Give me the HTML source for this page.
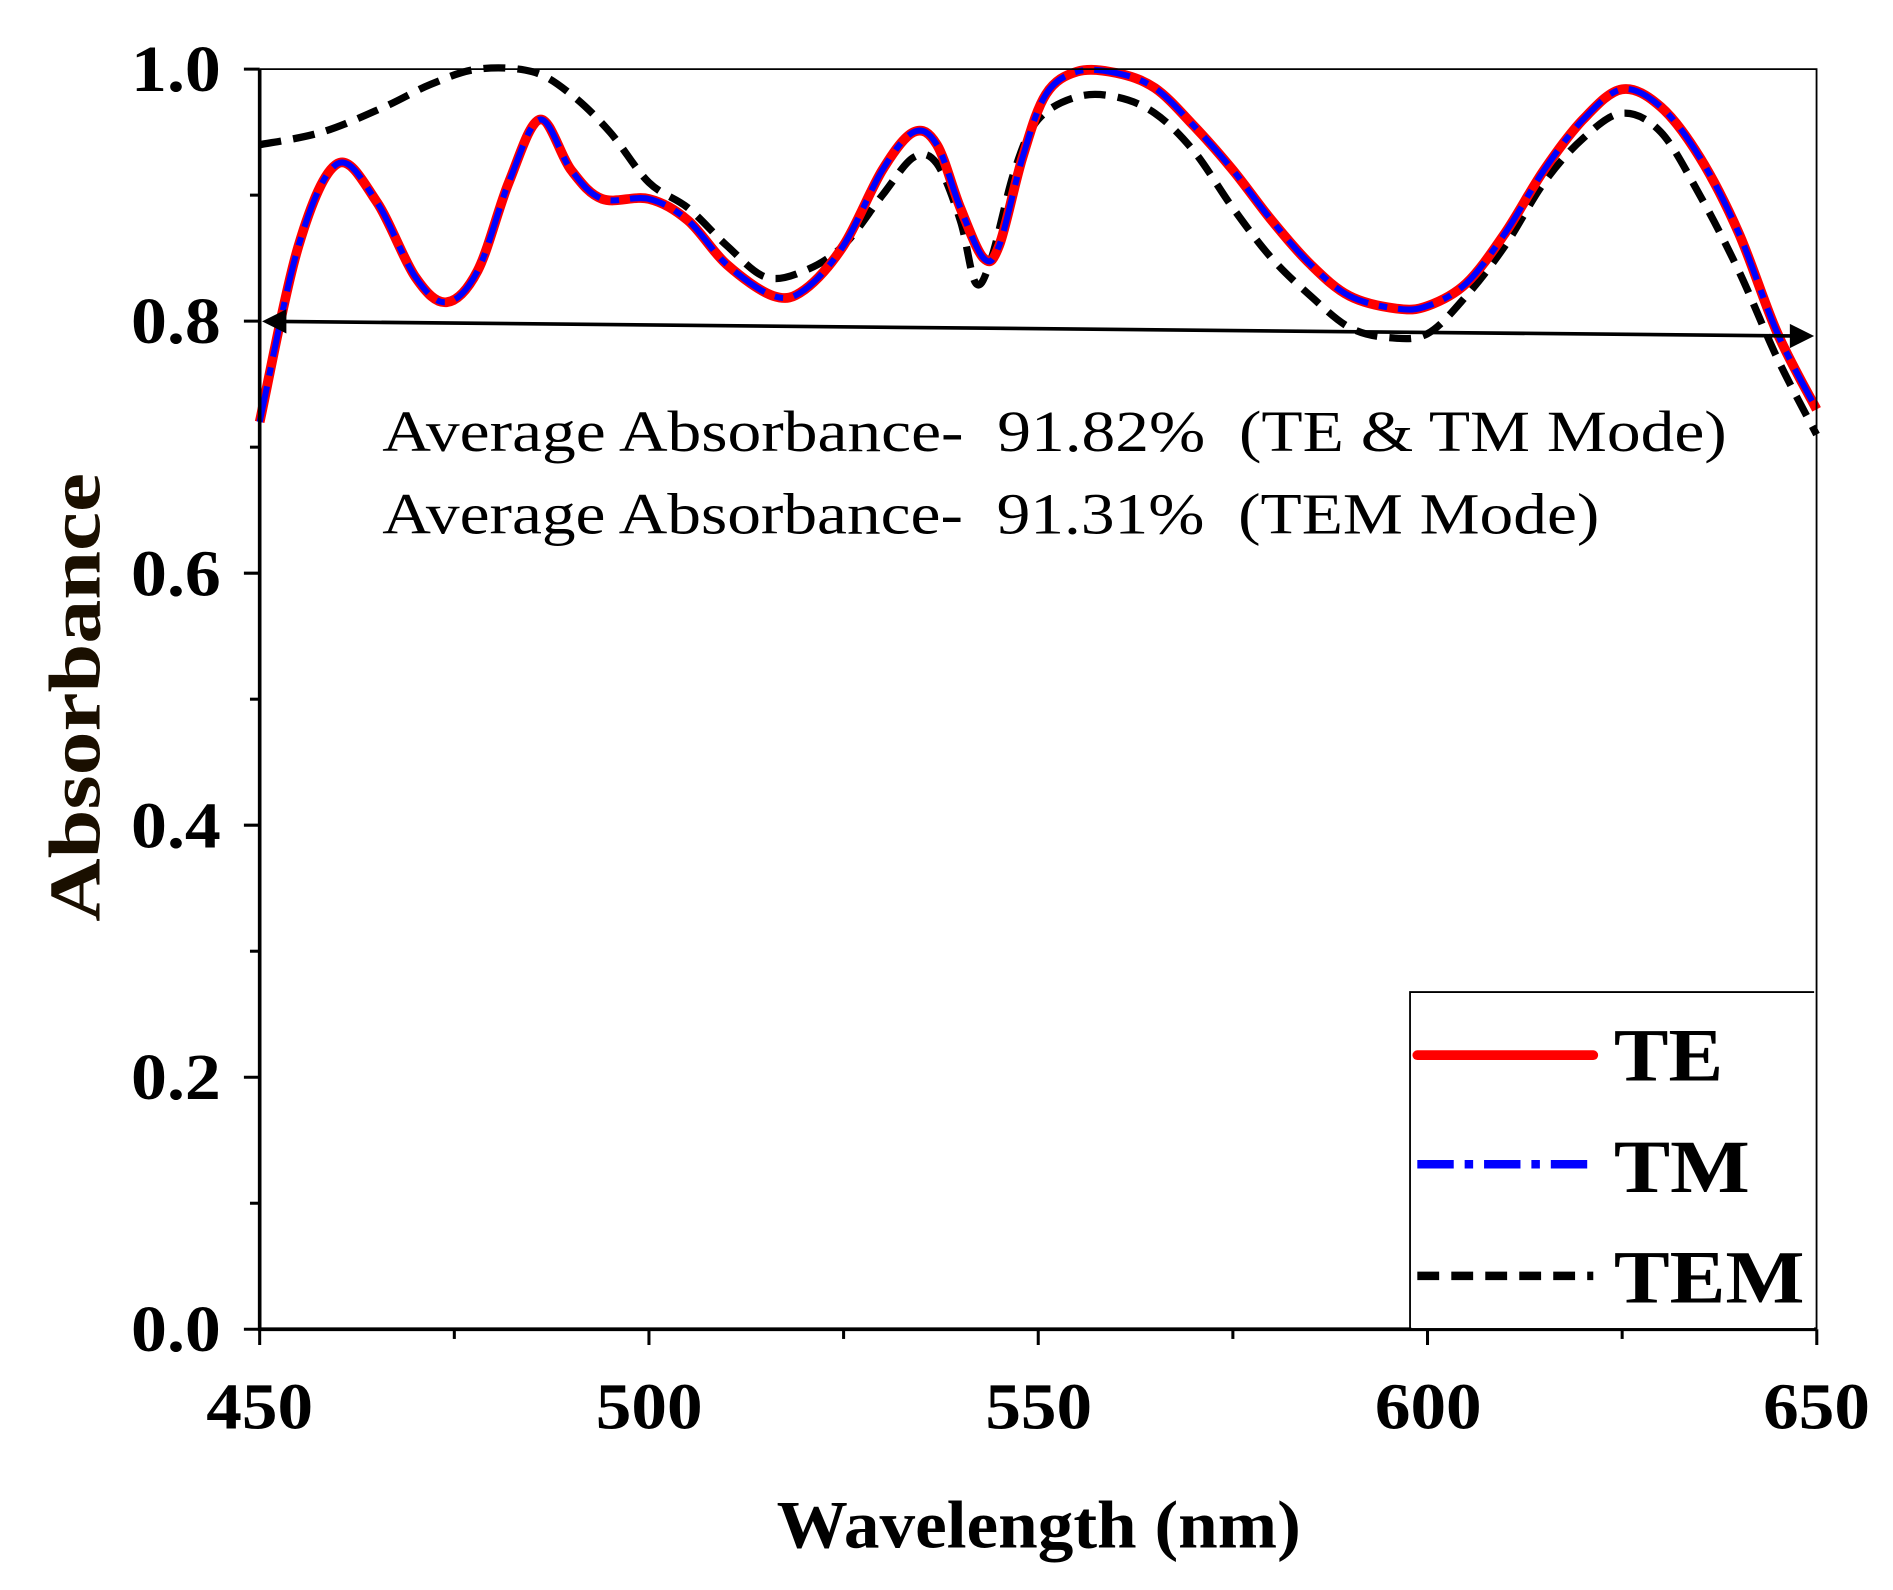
<!DOCTYPE html>
<html><head><meta charset="utf-8"><style>html,body{margin:0;padding:0;background:#fff}svg{display:block}</style></head>
<body>
<svg id="s" width="1893" height="1590" viewBox="0 0 1560 1311" preserveAspectRatio="none" xmlns="http://www.w3.org/2000/svg" font-family="'Liberation Serif', serif">
<rect width="1560" height="1311" fill="#fff"/>
<g id="curves"></g>
<path d="M214,57 H1497 V1096" fill="none" stroke="#000" stroke-width="1.5"/>
<path d="M214,57 V1096 H1497" fill="none" stroke="#000" stroke-width="3"/>
<g id="ticks" stroke="#000" stroke-width="2.5"></g>
<g font-weight="bold" font-size="54" lengthAdjust="spacingAndGlyphs">
<text x="108" y="75" textLength="74" lengthAdjust="spacingAndGlyphs">1.0</text>
<text x="108" y="283" textLength="74" lengthAdjust="spacingAndGlyphs">0.8</text>
<text x="108" y="491" textLength="74" lengthAdjust="spacingAndGlyphs">0.6</text>
<text x="108" y="699" textLength="74" lengthAdjust="spacingAndGlyphs">0.4</text>
<text x="108" y="906" textLength="74" lengthAdjust="spacingAndGlyphs">0.2</text>
<text x="108" y="1114" textLength="74" lengthAdjust="spacingAndGlyphs">0.0</text>
</g>
<g font-weight="bold" font-size="54">
<text x="170" y="1178" textLength="88" lengthAdjust="spacingAndGlyphs">450</text>
<text x="491" y="1178" textLength="88" lengthAdjust="spacingAndGlyphs">500</text>
<text x="812" y="1178" textLength="88" lengthAdjust="spacingAndGlyphs">550</text>
<text x="1133" y="1178" textLength="88" lengthAdjust="spacingAndGlyphs">600</text>
<text x="1453" y="1178" textLength="88" lengthAdjust="spacingAndGlyphs">650</text>
</g>
<text x="640" y="1276" font-weight="bold" font-size="56" textLength="432" lengthAdjust="spacingAndGlyphs">Wavelength (nm)</text>
<text transform="translate(82,760) rotate(-90)" font-weight="bold" font-size="60" textLength="370" lengthAdjust="spacingAndGlyphs" fill="#1a0f00">Absorbance</text>
<line x1="230" y1="265" x2="1478" y2="277" stroke="#000" stroke-width="3"/>
<polygon points="216,265 236,255 236,275" fill="#000"/>
<polygon points="1495,277 1475,267 1475,287" fill="#000"/>
<g font-size="48">
<text x="315" y="372" textLength="1108" lengthAdjust="spacingAndGlyphs" xml:space="preserve">Average Absorbance-  91.82%  (TE &amp; TM Mode)</text>
<text x="315" y="440" textLength="1003" lengthAdjust="spacingAndGlyphs" xml:space="preserve">Average Absorbance-  91.31%  (TEM Mode)</text>
</g>
<path d="M1162,1096 V818 H1495" fill="none" stroke="#000" stroke-width="1.5"/>
<rect x="1163" y="819" width="332" height="276" fill="#fff"/>
<line x1="1168" y1="870" x2="1313" y2="870" stroke="#f00" stroke-width="8" stroke-linecap="round"/>
<line x1="1168" y1="960" x2="1313" y2="960" stroke="#00f" stroke-width="7" stroke-dasharray="30 9 7 9"/>
<line x1="1168" y1="1052" x2="1313" y2="1052" stroke="#000" stroke-width="7" stroke-dasharray="18 10"/>
<g font-weight="bold" font-size="62">
<text x="1330" y="891" textLength="90" lengthAdjust="spacingAndGlyphs">TE</text>
<text x="1330" y="983" textLength="112" lengthAdjust="spacingAndGlyphs">TM</text>
<text x="1330" y="1074" textLength="157" lengthAdjust="spacingAndGlyphs">TEM</text>
</g>
</svg>
<script>
const X=l=>214+(l-450)*6.415, Y=a=>1096-a*1039;
const te=[[450,.72],[455,.86],[460,.925],[465,.895],[470,.835],[474,.815],[478,.84],[482,.91],[486,.96],[490,.92],[494,.897],[500,.897],[505,.88],[510,.845],[516,.82],[520,.825],[525,.86],[530,.92],[534,.95],[537,.94],[540,.89],[543,.85],[545,.86],[548,.93],[551,.98],[555,.998],[560,.997],[565,.985],[570,.955],[575,.92],[580,.88],[585,.845],[590,.82],[596,.81],[600,.812],[605,.83],[610,.87],[615,.92],[620,.96],[625,.984],[630,.97],[635,.93],[640,.87],[645,.79],[650,.73]];
const tem=[[450,.94],[458,.95],[466,.97],[472,.988],[478,1.0],[485,.998],[490,.98],[495,.95],[500,.91],[505,.89],[510,.86],[515,.835],[520,.84],[525,.86],[530,.9],[534,.93],[537,.925],[540,.88],[542,.83],[544,.85],[547,.92],[550,.96],[555,.978],[560,.978],[565,.965],[570,.935],[575,.89],[580,.85],[585,.82],[590,.795],[595,.787],[600,.79],[605,.82],[610,.86],[615,.91],[620,.945],[625,.965],[630,.95],[635,.9],[640,.84],[645,.77],[650,.71]];
function path(d){const p=d.map(([l,a])=>[X(l),Y(a)]);let s=`M${p[0][0]},${p[0][1]}`;
for(let i=0;i<p.length-1;i++){const p0=p[Math.max(0,i-1)],p1=p[i],p2=p[i+1],p3=p[Math.min(p.length-1,i+2)];
const c1=[p1[0]+(p2[0]-p0[0])/6,p1[1]+(p2[1]-p0[1])/6],c2=[p2[0]-(p3[0]-p1[0])/6,p2[1]-(p3[1]-p1[1])/6];
s+=` C${c1[0]},${c1[1]} ${c2[0]},${c2[1]} ${p2[0]},${p2[1]}`;}return s;}
const g=document.getElementById('curves');
g.innerHTML=`<path d="${path(tem)}" fill="none" stroke="#000" stroke-width="6" stroke-dasharray="18 10"/>
<path d="${path(te)}" fill="none" stroke="#f00" stroke-width="8"/>
<path d="${path(te)}" fill="none" stroke="#00f" stroke-width="5" stroke-dasharray="30 9 7 9"/>`;
let t='';for(let i=0;i<=8;i++){const x=214+i*160.4;t+=`<line x1="${x}" y1="1096" x2="${x}" y2="${1096+(i%2?8:13)}"/>`;}
for(let i=0;i<=10;i++){const y=1096-i*103.9;t+=`<line x1="214" y1="${y}" x2="${214-(i%2?8:13)}" y2="${y}"/>`;}
document.getElementById('ticks').innerHTML=t;
</script>
</body></html>
